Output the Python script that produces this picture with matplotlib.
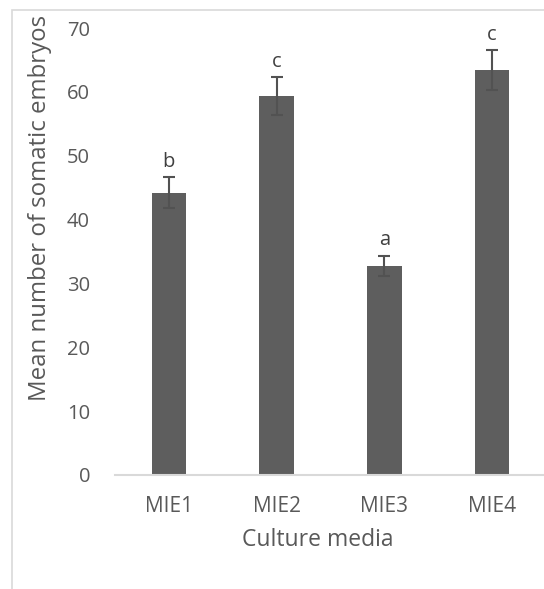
import matplotlib
matplotlib.use("Agg")
import matplotlib.pyplot as plt
from matplotlib.patches import Rectangle

categories = ["MIE1", "MIE2", "MIE3", "MIE4"]
means = [44.2, 59.3, 32.7, 63.4]
errors = [2.4, 3.0, 1.6, 3.1]
letters = ["b", "c", "a", "c"]
yticks = [0, 10, 20, 30, 40, 50, 60, 70]

plt.rcParams['font.family'] = ['Open Sans', 'DejaVu Sans']

W, H = 544, 589
fig = plt.figure(figsize=(W / 100, H / 100), dpi=100)

# outer chart frame (Excel chart area border)
fig.patches.append(Rectangle((12 / W, -0.1), 1.2, 1 - 10 / H + 0.1,
                             transform=fig.transFigure, fill=False,
                             edgecolor="#d9d9d9", linewidth=1.2))

left, right = 115 / W, 546 / W
bottom, top = 1 - 475 / H, 1 - 28 / H
ax = fig.add_axes([left, bottom, right - left, top - bottom])

x = list(range(len(categories)))
ax.bar(x, means, width=0.32, color="#5e5e5e", zorder=2)
ax.errorbar(x, means, yerr=errors, fmt="none", ecolor="#525252",
            elinewidth=1.5, capsize=4.5, capthick=1.5, zorder=3)

for xi, m, e, l in zip(x, means, errors, letters):
    ax.annotate(l, (xi, m + e), xytext=(0, 4), textcoords="offset points",
                ha="center", va="bottom", fontsize=14.5, color="#404040")

ax.set_xlim(-0.5, 3.5)
ax.set_ylim(0, 70)
ax.set_yticks(yticks)
ax.set_xticks(x)
ax.set_xticklabels(categories)
ax.tick_params(axis="both", length=0, labelsize=14.5, labelcolor="#595959")
ax.tick_params(axis="x", pad=15, labelsize=15)
ax.tick_params(axis="y", pad=18)

for s in ["top", "right", "left"]:
    ax.spines[s].set_visible(False)
ax.spines["bottom"].set_color("#d9d9d9")
ax.spines["bottom"].set_linewidth(1.5)
ax.set_facecolor("none")

fig.text(318 / W, 1 - 540 / H, "Culture media", ha="center", va="center",
         fontsize=16.5, color="#595959")
fig.text(40 / W, 1 - 208 / H, "Mean number of somatic embryos", ha="center",
         va="center", rotation=90, fontsize=17.3, color="#595959")

fig.savefig("out.png", dpi=100)
